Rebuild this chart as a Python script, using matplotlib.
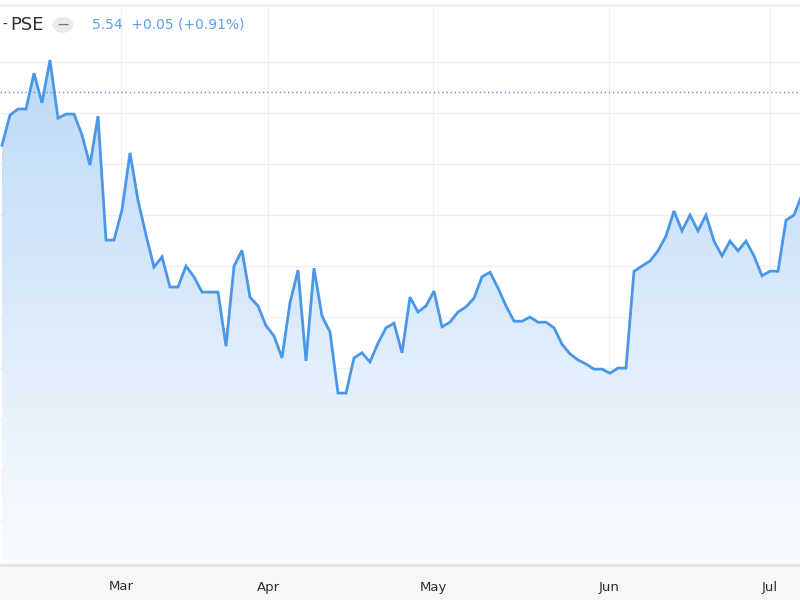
import matplotlib

matplotlib.use("Agg")
import matplotlib.pyplot as plt
import numpy as np
from matplotlib.patches import Circle, Rectangle

LINE = "#4a97e8"
GRID = "#eef0f5"
TEXT = "#2a2e39"
BLUE_TEXT = "#5aa0ea"

# daily closes (one per trading day)
prices = [
    5.437, 5.496, 5.508, 5.508, 5.578, 5.520, 5.604, 5.490, 5.498, 5.498,
    5.457, 5.398, 5.494, 5.251, 5.251, 5.310, 5.422, 5.329, 5.261, 5.198,
    5.218, 5.159, 5.159, 5.200, 5.179, 5.149, 5.149, 5.149, 5.043, 5.200,
    5.231, 5.139, 5.122, 5.083, 5.063, 5.020, 5.128, 5.192, 5.014, 5.196,
    5.102, 5.071, 4.951, 4.951, 5.020, 5.030, 5.012, 5.049, 5.079, 5.088,
    5.030, 5.139, 5.110, 5.122, 5.151, 5.081, 5.090, 5.110, 5.120, 5.137,
    5.179, 5.188, 5.157, 5.122, 5.092, 5.092, 5.100, 5.090, 5.090, 5.079,
    5.047, 5.028, 5.016, 5.008, 4.998, 4.998, 4.990, 5.000, 5.000, 5.190,
    5.200, 5.210, 5.230, 5.259, 5.308, 5.269, 5.300, 5.269, 5.300, 5.249,
    5.220, 5.249, 5.230, 5.249, 5.220, 5.181, 5.190, 5.190, 5.290, 5.300,
    5.340,
]
month_labels = ["Mar", "Apr", "May", "Jun", "Jul"]
month_pos = [14.9, 33.3, 53.9, 75.9, 96.0]
grid_prices = [5.6, 5.5, 5.4, 5.3, 5.2, 5.1, 5.0, 4.9, 4.8, 4.7]
last_price = 5.541

x = np.arange(len(prices))
y = np.array(prices)
y_lo, y_hi = 4.614, 5.706

fig = plt.figure(figsize=(8, 6), dpi=100)
fig.patch.set_facecolor("white")
ax = fig.add_axes([0, 35 / 600, 1, 557 / 600])
ax.set_xlim(-0.25, 99.75)
ax.set_ylim(y_lo, y_hi)
ax.set_axis_off()

for g in grid_prices:
    ax.axhline(g, color=GRID, lw=1, zorder=0)
for m in month_pos:
    ax.axvline(m, color=GRID, lw=1, zorder=0)

# gradient fill under the line
grad = np.linspace(0.02, 0.28, 256).reshape(-1, 1)
cmap = matplotlib.colors.LinearSegmentedColormap.from_list("f", ["#ffffff", "#bcd9f7"])
img = ax.imshow(grad, extent=[-0.25, 100, y_lo, y.max()], origin="lower",
                aspect="auto", cmap=cmap, vmin=0, vmax=0.28, zorder=1)
poly = ax.fill_between(x, y, y_lo, color="none")
img.set_clip_path(poly.get_paths()[0], transform=ax.transData)

ax.plot(x, y, color=LINE, lw=2, zorder=3, solid_joinstyle="miter")
ax.axhline(last_price, color=LINE, lw=1, ls=(0, (1, 2)), zorder=2)

# bottom time axis strip
fig.patches.append(Rectangle((0, 0), 1, 35 / 600, transform=fig.transFigure,
                             facecolor="#f7f7f8", edgecolor="none"))
fig.add_artist(plt.Line2D([0, 1], [35 / 600, 35 / 600], color="#e4e4e8", lw=2))
for m, lab in zip(month_pos, month_labels):
    xf = (m + 0.25) / 100
    fig.text(xf, 13 / 600, lab, ha="center", va="center", fontsize=9.5, color=TEXT)

# top border
fig.add_artist(plt.Line2D([0, 1], [595 / 600, 595 / 600], color="#e8e8ec", lw=1))

# header
fig.text(2 / 800, 1 - 25 / 600, "-", fontsize=10, color=TEXT, va="center")
fig.text(10 / 800, 1 - 25 / 600, "PSE", fontsize=13, color=TEXT, va="center")
fig.patches.append(Circle((63 / 800, 1 - 25 / 600), 0.013, transform=fig.transFigure,
                          facecolor="#ebebeb", edgecolor="none"))
fig.text(63 / 800, 1 - 25 / 600, "\u2014", fontsize=8, color="#777777",
         ha="center", va="center", fontweight="bold")
fig.text(92 / 800, 1 - 25 / 600, "5.54  +0.05 (+0.91%)", fontsize=10,
         color=BLUE_TEXT, va="center")

fig.savefig("out.png", facecolor="white")
